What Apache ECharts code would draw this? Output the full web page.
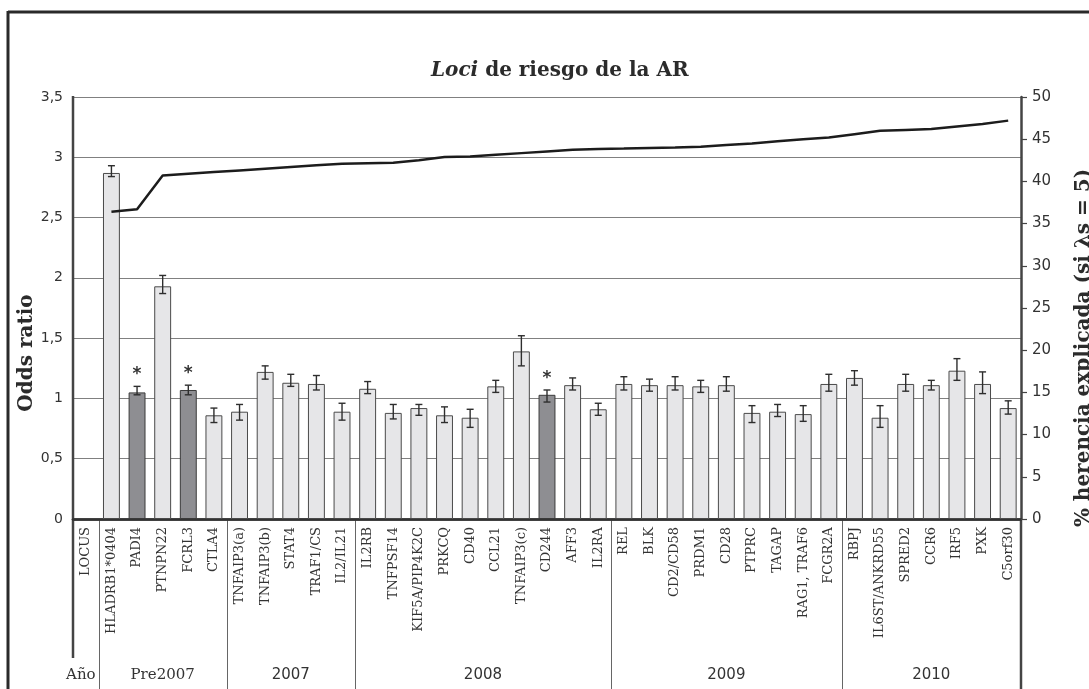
<!DOCTYPE html>
<html>
<head>
<meta charset="utf-8">
<script src="https://cdn.jsdelivr.net/npm/echarts@6/dist/echarts.min.js"></script>
<style>
  html, body { margin: 0; padding: 0; background: #fff; }
  #chart { width: 1089px; height: 689px; }
</style>
</head>
<body>
<div id="chart"></div>
<script>
// Risk loci for rheumatoid arthritis: odds ratio per locus (bars, left axis)
// and cumulative explained heritability (line, right axis).
const categories = ['LOCUS', 'HLADRB1*0404', 'PADI4', 'PTNPN22', 'FCRL3', 'CTLA4',
  'TNFAIP3(a)', 'TNFAIP3(b)', 'STAT4', 'TRAF1/CS', 'IL2/IL21',
  'IL2RB', 'TNFPSF14', 'KIF5A/PIP4K2C', 'PRKCQ', 'CD40', 'CCL21', 'TNFAIP3(c)', 'CD244', 'AFF3', 'IL2RA',
  'REL', 'BLK', 'CD2/CD58', 'PRDM1', 'CD28', 'PTPRC', 'TAGAP', 'RAG1, TRAF6', 'FCGR2A',
  'RBPJ', 'IL6ST/ANKRD55', 'SPRED2', 'CCR6', 'IRF5', 'PXK', 'C5orf30'];

const oddsRatio = [null, 2.87, 1.05, 1.93, 1.07, 0.86,
  0.89, 1.22, 1.13, 1.12, 0.89,
  1.08, 0.88, 0.92, 0.86, 0.84, 1.10, 1.39, 1.03, 1.11, 0.91,
  1.12, 1.11, 1.11, 1.10, 1.11, 0.88, 0.89, 0.87, 1.12,
  1.17, 0.84, 1.12, 1.11, 1.23, 1.12, 0.92];

const ciLow = [null, 2.84, 1.03, 1.87, 1.03, 0.80,
  0.82, 1.16, 1.10, 1.07, 0.82,
  1.04, 0.83, 0.86, 0.80, 0.76, 1.05, 1.27, 0.97, 1.07, 0.86,
  1.07, 1.06, 1.07, 1.05, 1.06, 0.80, 0.85, 0.81, 1.06,
  1.11, 0.76, 1.06, 1.07, 1.15, 1.04, 0.87];

const ciHigh = [null, 2.93, 1.10, 2.02, 1.11, 0.92,
  0.95, 1.27, 1.20, 1.19, 0.96,
  1.14, 0.95, 0.95, 0.93, 0.91, 1.15, 1.52, 1.07, 1.17, 0.96,
  1.18, 1.16, 1.18, 1.15, 1.18, 0.94, 0.95, 0.94, 1.20,
  1.23, 0.94, 1.20, 1.15, 1.33, 1.22, 0.98];

const heritability = [null, 36.4, 36.7, 40.7, 40.9, 41.1,
  41.3, 41.5, 41.7, 41.9, 42.1,
  42.15, 42.2, 42.5, 42.9, 42.95, 43.15, 43.35, 43.55, 43.75, 43.85,
  43.9, 43.97, 44.03, 44.1, 44.3, 44.5, 44.75, 45.0, 45.2,
  45.6, 46.0, 46.1, 46.2, 46.5, 46.8, 47.2];

// Loci marked with an asterisk (drawn with dark fill)
const starred = ['PADI4', 'FCRL3', 'CD244'];

// Year of discovery groups: label and index of first locus in the group
const yearGroups = ['Pre2007', '2007', '2008', '2009', '2010'];
const groupStarts = [1, 6, 11, 21, 30];

const leftTicks = ['0', '0,5', '1', '1,5', '2', '2,5', '3', '3,5'];

const SERIF = '"DejaVu Serif", "Liberation Serif", serif';
const SANS = '"DejaVu Sans", Verdana, sans-serif';

const GRID = { left: 73, right: 68, top: 97, bottom: 170 };

const chart = echarts.init(document.getElementById('chart'), null, { renderer: 'canvas' });

const barData = oddsRatio.map((v, i) => {
  if (v == null) return null;
  const dark = starred.includes(categories[i]);
  return {
    value: v,
    itemStyle: dark ? { color: '#8e8e92', borderColor: '#3a3a3a' } : undefined
  };
});

const errData = categories.map((c, i) => [i, ciLow[i], ciHigh[i], starred.includes(c) ? 1 : 0])
  .filter(d => d[1] != null);

chart.setOption({
  animation: false,
  title: {
    text: '{i|Loci} de riesgo de la AR',
    left: 426,
    top: 56,
    textStyle: {
      fontFamily: SERIF, fontWeight: 'bold', fontSize: 20, color: '#2b2b2b',
      rich: {
        i: { fontFamily: SERIF, fontWeight: 'bold', fontStyle: 'italic', fontSize: 20, color: '#2b2b2b' }
      }
    }
  },
  grid: GRID,
  xAxis: [{
    type: 'category',
    data: categories,
    position: 'bottom',
    axisLine: { lineStyle: { color: '#444', width: 2.5 } },
    axisTick: { show: false },
    axisLabel: {
      interval: 0, rotate: 90, margin: 8,
      fontFamily: SERIF, fontSize: 13, color: '#333'
    }
  }, {
    type: 'category',
    data: categories,
    position: 'top',
    axisLine: { lineStyle: { color: '#333', width: 2.5 } },
    axisTick: { show: false },
    axisLabel: { show: false }
  }],
  yAxis: [{
    type: 'value',
    min: 0, max: 3.5, interval: 0.5,
    axisLine: { show: false },
    axisTick: { show: false },
    axisLabel: {
      margin: 10, fontFamily: SANS, fontSize: 14, color: '#333',
      formatter: v => leftTicks[Math.round(v / 0.5)]
    },
    splitLine: { lineStyle: { color: '#808080', width: 1.2 } }
  }, {
    type: 'value',
    min: 0, max: 50, interval: 5,
    position: 'right',
    axisLine: { show: true, lineStyle: { color: '#444', width: 2.5 } },
    axisTick: { show: true, length: 6, lineStyle: { color: '#444', width: 1.2 } },
    axisLabel: { margin: 11, fontFamily: SANS, fontSize: 15, color: '#333' },
    splitLine: { show: false }
  }],
  series: [{
    type: 'bar',
    data: barData,
    barWidth: '66%',
    itemStyle: { color: '#e6e6e8', borderColor: '#4a4a4a', borderWidth: 1 },
    z: 2
  }, {
    type: 'custom',
    data: errData,
    z: 3,
    renderItem: (params, api) => {
      const x = api.value(0);
      const lo = api.coord([x, api.value(1)]);
      const hi = api.coord([x, api.value(2)]);
      const cap = 3.5;
      const style = { stroke: '#2e2e2e', lineWidth: 1.4 };
      const children = [
        { type: 'line', shape: { x1: lo[0], y1: lo[1], x2: hi[0], y2: hi[1] }, style },
        { type: 'line', shape: { x1: hi[0] - cap, y1: hi[1], x2: hi[0] + cap, y2: hi[1] }, style },
        { type: 'line', shape: { x1: lo[0] - cap, y1: lo[1], x2: lo[0] + cap, y2: lo[1] }, style }
      ];
      if (api.value(3)) {
        children.push({
          type: 'text',
          style: {
            text: '*', x: hi[0], y: hi[1] - 3,
            align: 'center', verticalAlign: 'bottom',
            font: 'bold 17px ' + SANS, fill: '#333'
          }
        });
      }
      return { type: 'group', children };
    }
  }, {
    type: 'line',
    yAxisIndex: 1,
    data: heritability,
    symbol: 'none',
    lineStyle: { color: '#1c1c1c', width: 2.5 },
    z: 4
  }]
});

// Table below the axis, axis names and outer frame, positioned from the axes
function drawAnnotations() {
  const W = chart.getWidth(), H = chart.getHeight();
  const c0 = chart.convertToPixel({ xAxisIndex: 0 }, 0);
  const c1 = chart.convertToPixel({ xAxisIndex: 0 }, 1);
  const band = c1 - c0;
  const edge = i => c0 - band / 2 + i * band;
  const yBase = chart.convertToPixel({ yAxisIndex: 0 }, 0);
  const yTop = chart.convertToPixel({ yAxisIndex: 0 }, 3.5);
  const xLeft = edge(0);
  const xRight = edge(categories.length);
  const yRow = 675;

  const els = [];
  // outer frame
  els.push({ type: 'line', shape: { x1: 8, y1: 12, x2: W, y2: 12 }, style: { stroke: '#2a2a2a', lineWidth: 3 } });
  els.push({ type: 'line', shape: { x1: 8, y1: 11, x2: 8, y2: H }, style: { stroke: '#2a2a2a', lineWidth: 3 } });
  // left axis line, running into the table
  els.push({ type: 'line', shape: { x1: xLeft, y1: yTop - 1, x2: xLeft, y2: 658 }, style: { stroke: '#444', lineWidth: 2.5 } });
  // right axis extension through the table
  els.push({ type: 'line', shape: { x1: xRight, y1: yBase, x2: xRight, y2: H }, style: { stroke: '#444', lineWidth: 2.5 } });
  // group separators
  const seps = [1].concat(groupStarts.slice(1));
  seps.forEach(i => {
    const x = Math.round(edge(i)) + 0.5;
    els.push({ type: 'line', shape: { x1: x, y1: yBase + 1, x2: x, y2: H }, style: { stroke: '#666', lineWidth: 1 } });
  });
  // year row
  els.push({
    type: 'text', style: {
      text: 'Año', x: edge(1) - 3, y: yRow, align: 'right', verticalAlign: 'middle',
      font: '15px ' + SERIF, fill: '#333'
    }
  });
  yearGroups.forEach((g, k) => {
    const a = groupStarts[k];
    const b = k + 1 < groupStarts.length ? groupStarts[k + 1] : categories.length;
    const serif = k === 0;
    els.push({
      type: 'text', style: {
        text: g, x: (edge(a) + edge(b)) / 2, y: yRow, align: 'center', verticalAlign: 'middle',
        font: '15px ' + (serif ? SERIF : SANS), fill: '#333'
      }
    });
  });
  // axis names
  els.push({
    type: 'text', x: 27, y: 353, rotation: Math.PI / 2,
    style: {
      text: 'Odds ratio', x: 0, y: 0, align: 'center', verticalAlign: 'middle',
      font: 'bold 20px ' + SERIF, fill: '#2b2b2b'
    }
  });
  els.push({
    type: 'text', x: 1084, y: 348, rotation: Math.PI / 2,
    style: {
      text: '% herencia explicada (si λs = 5)', x: 0, y: 0, align: 'center', verticalAlign: 'middle',
      font: 'bold 20px ' + SERIF, fill: '#2b2b2b'
    }
  });
  chart.setOption({ graphic: { elements: els } });
}
drawAnnotations();
</script>
</body>
</html>
